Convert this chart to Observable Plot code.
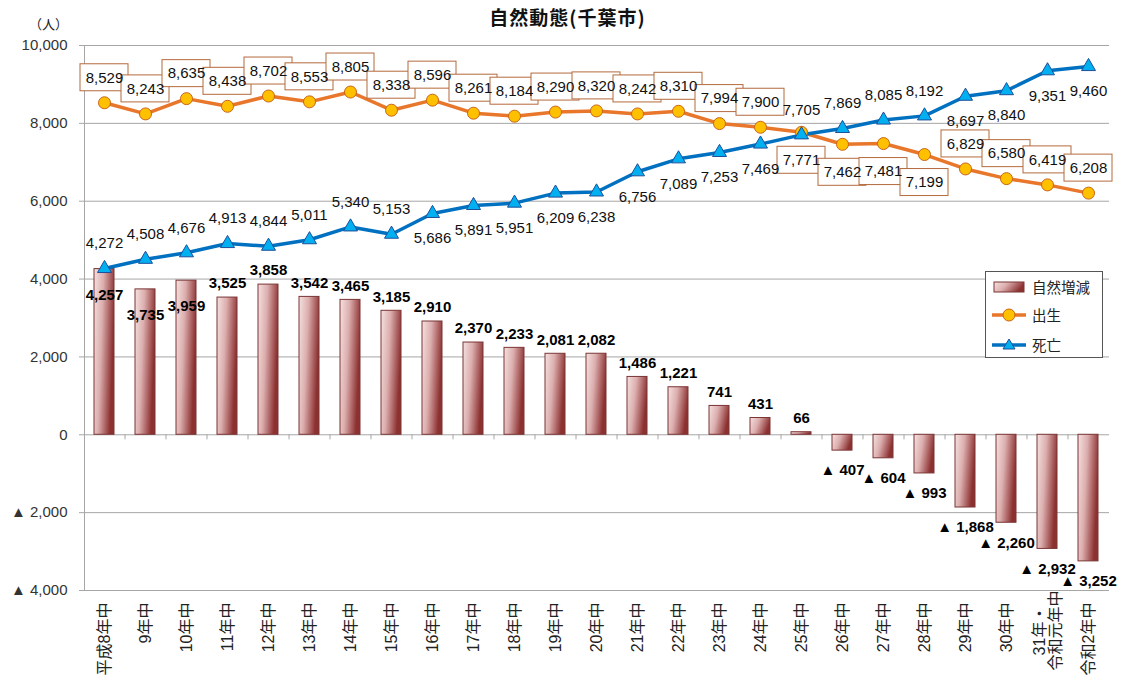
<!DOCTYPE html>
<html><head><meta charset="utf-8">
<script src="https://cdn.jsdelivr.net/npm/d3@7"></script>
<script src="https://cdn.jsdelivr.net/npm/@observablehq/plot@0.6"></script>
<style>
body{margin:0;background:#fff;font-family:"Liberation Sans","Noto Sans CJK JP",sans-serif;}
#wrap{position:relative;width:1124px;height:680px;overflow:hidden;}
#title{position:absolute;left:0;width:1135px;top:3px;text-align:center;font-weight:bold;font-size:19px;font-family:"Noto Sans CJK JP";letter-spacing:1px;color:#111;}
#unit{position:absolute;left:29px;top:14px;font-size:13px;font-family:"Noto Sans CJK JP";color:#222;}
#legend{position:absolute;left:985px;top:271px;width:116px;height:85px;border:1px solid #555;background:#fff;font-family:"Noto Sans CJK JP";font-size:14.5px;color:#222;}
#legend .row{position:absolute;left:6px;display:flex;align-items:center;}
#legend span{margin-left:6px;}
</style></head>
<body><div id="wrap"><div id="title">自然動態(千葉市)</div><div id="unit">（人）</div><div id="chart"></div>
<div id="legend">
 <div class="row" style="top:4px"><svg width="34" height="20"><defs><linearGradient id="lg" x1="0" y1="0" x2="1" y2="0.3"><stop offset="0" stop-color="#f5e1e1"/><stop offset="0.45" stop-color="#dcaeae"/><stop offset="1" stop-color="#8c3030"/></linearGradient></defs><rect x="2" y="5" width="30" height="10" fill="url(#lg)" stroke="#7b3535"/></svg><span>自然増減</span></div>
 <div class="row" style="top:32px"><svg width="34" height="20"><line x1="0" x2="34" y1="10" y2="10" stroke="#E8762B" stroke-width="3.5"/><circle cx="17" cy="10" r="6" fill="#FFC000" stroke="#C86418"/></svg><span>出生</span></div>
 <div class="row" style="top:62px"><svg width="34" height="20"><line x1="0" x2="34" y1="10" y2="10" stroke="#0070C0" stroke-width="3.5"/><path d="M17,4 L23,14 L11,14 Z" fill="#00B0F0" stroke="#1F4E9A"/></svg><span>死亡</span></div>
</div>
</div>
<script>
const years = ["平成8年中","9年中","10年中","11年中","12年中","13年中","14年中","15年中","16年中","17年中","18年中","19年中","20年中","21年中","22年中","23年中","24年中","25年中","26年中","27年中","28年中","29年中","30年中","31年・\n令和元年中","令和2年中"];
const births = [8529,8243,8635,8438,8702,8553,8805,8338,8596,8261,8184,8290,8320,8242,8310,7994,7900,7771,7462,7481,7199,6829,6580,6419,6208];
const deaths = [4272,4508,4676,4913,4844,5011,5340,5153,5686,5891,5951,6209,6238,6756,7089,7253,7469,7705,7869,8085,8192,8697,8840,9351,9460];
const natural = [4257,3735,3959,3525,3858,3542,3465,3185,2910,2370,2233,2081,2082,1486,1221,741,431,66,-407,-604,-993,-1868,-2260,-2932,-3252];
const yTicks = [-4000,-2000,0,2000,4000,6000,8000,10000];

const rows = years.map((c,i)=>({c,i,b:births[i],d:deaths[i],n:natural[i]}));
const fmt = d3.format(",");
const sfmt = v => v < 0 ? "▲ " + fmt(-v) : fmt(v);
const birthBelow = r => r.i >= 17 && r.i <= 20;
const deathAbove = r => r.i <= 7 || (r.i >= 17 && r.i <= 20);
const lastGroup = years.length - 2;

const defs = () => {
  const ns = "http://www.w3.org/2000/svg";
  const d = document.createElementNS(ns, "defs");
  d.innerHTML = '<linearGradient id="barGrad" x1="0" y1="0" x2="1" y2="0.3"><stop offset="0" stop-color="#f5e1e1"/><stop offset="0.45" stop-color="#dcaeae"/><stop offset="1" stop-color="#8c3030"/></linearGradient>';
  return d;
};

const boxOpts = {x:"c", y1:"b", y2:"b", insetLeft:-14, insetRight:-14, insetTop:-13.5, insetBottom:-13.5, fill:"white", stroke:"#b46a3c", strokeWidth:1};

const chart = Plot.plot({
  width:1124, height:680,
  marginLeft:84, marginRight:15, marginTop:45, marginBottom:90,
  style:{fontFamily:'"Liberation Sans","Noto Sans CJK JP",sans-serif', fontSize:"15px", background:"transparent", overflow:"visible", color:"#222"},
  x:{type:"band", domain:years, paddingInner:0.51, paddingOuter:0.255, axis:null},
  y:{domain:[-4000,10000], axis:null},
  marks:[
    defs,
    Plot.ruleY(yTicks, {stroke:"#a6a6a6", strokeWidth:1}),
    Plot.frame({anchor:"left", stroke:"#a6a6a6"}),
    Plot.axisY({ticks:yTicks, tickFormat:sfmt, tickSize:5, tickPadding:12, stroke:"#a6a6a6", fill:"#333", fontSize:15, label:null}),
    Plot.ruleX(years.slice(0,-1), {x:d=>d, y1:0, y2:-130, dx:20.5, stroke:"#a6a6a6"}),
    Plot.barY(rows, {x:"c", y:"n", fill:"url(#barGrad)", stroke:"#7b3535", strokeWidth:1}),
    Plot.text(rows.filter(r=>r.i<3), {x:"c", y:"n", text:r=>sfmt(r.n), dy:26, fontWeight:"bold", fill:"#000"}),
    Plot.text(rows.filter(r=>r.i>=3 && r.n>=0), {x:"c", y:"n", text:r=>sfmt(r.n), dy:-14, fontWeight:"bold", fill:"#000"}),
    Plot.text(rows.filter(r=>r.n<0), {x:"c", y:"n", text:r=>sfmt(r.n), dy:20, fontWeight:"bold", fill:"#000"}),
    Plot.line(rows, {x:"c", y:"b", stroke:"#E8762B", strokeWidth:3.5}),
    Plot.line(rows, {x:"c", y:"d", stroke:"#0070C0", strokeWidth:3.5}),
    Plot.dot(rows, {x:"c", y:"b", r:6, fill:"#FFC000", stroke:"#C86418", strokeWidth:1}),
    Plot.dot(rows, {x:"c", y:"d", symbol:"triangle", r:5.2, fill:"#00B0F0", stroke:"#1F4E9A", strokeWidth:1}),
    Plot.barY(rows.filter(r=>!birthBelow(r)), {...boxOpts, dy:-25}),
    Plot.barY(rows.filter(birthBelow), {...boxOpts, dy:28}),
    Plot.text(rows.filter(r=>!birthBelow(r)), {x:"c", y:"b", text:r=>sfmt(r.b), dy:-25, fill:"#111"}),
    Plot.text(rows.filter(birthBelow), {x:"c", y:"b", text:r=>sfmt(r.b), dy:28, fill:"#111"}),
    Plot.text(rows.filter(deathAbove), {x:"c", y:"d", text:r=>sfmt(r.d), dy:-25, fill:"#111"}),
    Plot.text(rows.filter(r=>!deathAbove(r)), {x:"c", y:"d", text:r=>sfmt(r.d), dy:25, fill:"#111"}),
    Plot.text(rows.filter(r=>r.i!==lastGroup), {x:"c", y:-4000, text:"c", rotate:-90, textAnchor:"end", dy:12, fontSize:16, fill:"#222"}),
    Plot.text(rows.filter(r=>r.i===lastGroup), {x:"c", y:-4000, text:"c", rotate:-90, textAnchor:"middle", lineAnchor:"middle", lineHeight:1.0, dy:40, fontSize:16, fill:"#222"})
  ]
});
document.getElementById("chart").appendChild(chart);
</script>
</body></html>
